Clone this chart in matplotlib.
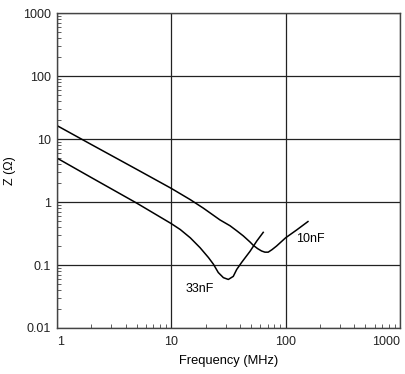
import matplotlib
matplotlib.use("Agg")
import matplotlib.pyplot as plt
from matplotlib.ticker import LogLocator, FixedLocator, NullFormatter

plt.rcParams['font.family'] = ['Liberation Sans', 'DejaVu Sans']

# 10nF curve
f_10n = [1, 2, 5, 10, 14.7, 19.1, 23, 26.7, 32.7, 37.4, 42.7, 48.9, 52.3, 57, 61.7, 66, 70.5, 76, 83.4, 100, 125, 157]
z_10n = [16.4, 8.2, 3.3, 1.65, 1.09, 0.80, 0.63, 0.52, 0.42, 0.35, 0.29, 0.232, 0.205, 0.182, 0.167, 0.160, 0.160, 0.175, 0.20, 0.27, 0.36, 0.49]

# 33nF curve
f_33n = [1, 2, 5, 10, 12.0, 14.7, 17.9, 21.2, 23.4, 25.8, 28.6, 31.6, 34.9, 37.4, 41.3, 48.9, 56, 63.8]
z_33n = [5.0, 2.45, 0.96, 0.455, 0.366, 0.27, 0.188, 0.131, 0.103, 0.076, 0.063, 0.059, 0.066, 0.085, 0.110, 0.165, 0.24, 0.33]

x_ticks = [1, 10, 100, 1000]
x_labels = ['1', '10', '100', '1000']
y_ticks = [0.01, 0.1, 1, 10, 100, 1000]
y_labels = ['0.01', '0.1', '1', '10', '100', '1000']

fig = plt.figure(figsize=(4.06, 3.74), dpi=100)
ax = fig.add_axes([0.140, 0.123, 0.845, 0.842])

ax.plot(f_10n, z_10n, color='black', lw=1.1)
ax.plot(f_33n, z_33n, color='black', lw=1.1)

ax.set_xscale('log')
ax.set_yscale('log')
ax.set_xlim(1, 1000)
ax.set_ylim(0.01, 1000)

ax.xaxis.set_major_locator(FixedLocator(x_ticks))
ax.set_xticklabels(x_labels)
ax.yaxis.set_major_locator(FixedLocator(y_ticks))
ax.set_yticklabels(y_labels)
ax.xaxis.set_minor_locator(LogLocator(base=10, subs=range(2, 10), numticks=20))
ax.yaxis.set_minor_locator(LogLocator(base=10, subs=range(2, 10), numticks=20))
ax.xaxis.set_minor_formatter(NullFormatter())
ax.yaxis.set_minor_formatter(NullFormatter())

ax.tick_params(which='major', length=0, labelsize=9, colors='#222222')
ax.tick_params(axis='x', which='major', pad=6)
ax.tick_params(axis='y', which='major', pad=4)
ax.tick_params(which='minor', direction='in', length=3, width=0.6, colors='#444444')
ax.grid(True, which='major', color='#222222', lw=0.9)

xl = ax.get_xticklabels()
xl[-1].set_horizontalalignment('right')
xl[0].set_horizontalalignment('left')

for s in ax.spines.values():
    s.set_color('#444444')
    s.set_linewidth(1.0)

ax.set_xlabel('Frequency (MHz)', fontsize=9.3, labelpad=5)
ax.set_ylabel('Z (Ω)', fontsize=9, labelpad=5)

ax.annotate('10nF', xy=(0.740, 0.284), xycoords='axes fraction', fontsize=9, ha='center', va='center')
ax.annotate('33nF', xy=(0.416, 0.124), xycoords='axes fraction', fontsize=9, ha='center', va='center')

fig.savefig('out.png', dpi=100)
